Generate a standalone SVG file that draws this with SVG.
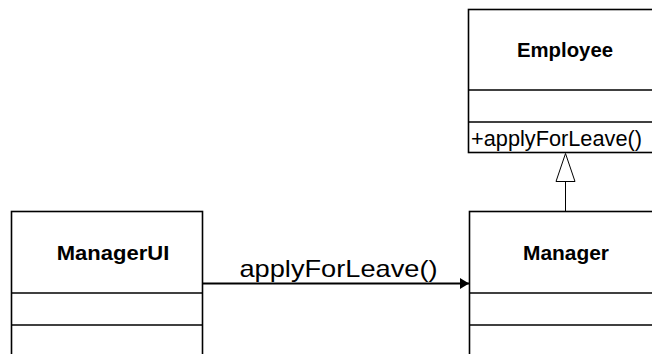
<svg xmlns="http://www.w3.org/2000/svg" width="652" height="354" viewBox="0 0 652 354">
<style>
.box{fill:#fff;stroke:#000;stroke-width:1.6}
.sep{stroke:#000;stroke-width:1.6}
.title{font-family:"Liberation Sans",Arial,sans-serif;font-weight:bold;font-size:19.5px;fill:#000}
.lbl{font-family:"Liberation Sans",Arial,sans-serif;font-size:24px;fill:#000}
.meth{font-family:"Liberation Sans",Arial,sans-serif;font-size:22.5px;fill:#000}
.edge{stroke:#000;fill:none}
</style>
<defs>
<marker id="filled" markerWidth="12" markerHeight="12" refX="9" refY="5.5" orient="auto" markerUnits="userSpaceOnUse">
<path d="M0,0 L9,5.5 L0,11 Z" fill="#000"/>
</marker>
</defs>
<g id="Employee">
<rect class="box" x="468.5" y="9.5" width="190" height="143"/>
<line class="sep" x1="468.5" y1="90" x2="660" y2="90"/>
<line class="sep" x1="468.5" y1="122" x2="660" y2="122"/>
<text class="title" x="517" y="57" textLength="96" lengthAdjust="spacingAndGlyphs">Employee</text>
<text class="meth" x="471" y="145.5" textLength="171" lengthAdjust="spacingAndGlyphs">+applyForLeave()</text>
</g>
<g id="ManagerUI">
<rect class="box" x="11.5" y="211.5" width="191" height="160"/>
<line class="sep" x1="11.5" y1="293" x2="202.5" y2="293"/>
<line class="sep" x1="11.5" y1="325" x2="202.5" y2="325"/>
<text class="title" x="56.7" y="260" textLength="112.6" lengthAdjust="spacingAndGlyphs">ManagerUI</text>
</g>
<g id="Manager">
<rect class="box" x="469.5" y="211.5" width="190" height="160"/>
<line class="sep" x1="469.5" y1="293" x2="660" y2="293"/>
<line class="sep" x1="469.5" y1="325" x2="660" y2="325"/>
<text class="title" x="523" y="260" textLength="86" lengthAdjust="spacingAndGlyphs">Manager</text>
</g>
<g id="connectors">
<line class="edge" x1="203" y1="283.5" x2="469" y2="283.5" stroke-width="1.8" marker-end="url(#filled)"/>
<text class="lbl" x="239.5" y="276.5" textLength="198" lengthAdjust="spacingAndGlyphs">applyForLeave()</text>
<line class="edge" x1="565.5" y1="182" x2="565.5" y2="211" stroke-width="1"/>
<path class="edge" d="M565.5,153.5 L575,181.5 L556,181.5 Z" fill="#fff" stroke-width="1"/>
</g>
</svg>
